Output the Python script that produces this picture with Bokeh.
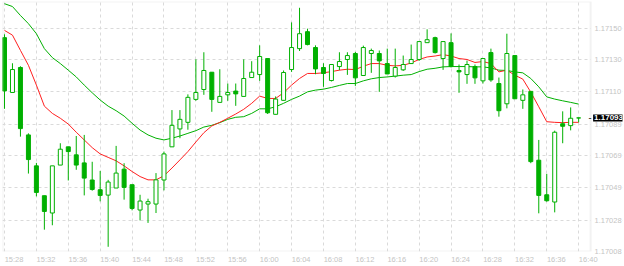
from bokeh.plotting import figure
from bokeh.models import (ColumnDataSource, FixedTicker, NumeralTickFormatter, Label,
                          BoxAnnotation)
from bokeh.embed import file_html
from bokeh.resources import INLINE

# ---- data (1-minute candles, 15:28 .. 16:40) ----
x_tick_labels = ["15:28", "15:32", "15:36", "15:40", "15:44", "15:48", "15:52", "15:56",
                 "16:00", "16:04", "16:08", "16:12", "16:16", "16:20", "16:24", "16:28",
                 "16:32", "16:36", "16:40"]
y_tick_labels = ["1.17008", "1.17028", "1.17049", "1.17069", "1.17089", "1.17110", "1.17130", "1.17150"]

opens = [1.171441, 1.171092, 1.171251, 1.170822, 1.170625, 1.170435, 1.170325, 1.170630, 1.170746, 1.170695,
         1.170644, 1.170535, 1.170473, 1.170439, 1.170484, 1.170604, 1.170505, 1.170344, 1.170382, 1.170382,
         1.170535, 1.170746, 1.170860, 1.170902, 1.171048, 1.171111, 1.171221, 1.171029, 1.171077, 1.171101,
         1.171067, 1.171187, 1.171206, 1.171308, 1.170953, 1.171042, 1.171238, 1.171371, 1.171479, 1.171378,
         1.171251, 1.171168, 1.171257, 1.171302, 1.171340, 1.171200, 1.171340, 1.171340, 1.171276, 1.171196,
         1.171236, 1.171276, 1.171302, 1.171409, 1.171441, 1.171308, 1.171409, 1.171232, 1.171206, 1.171257,
         1.171166, 1.171346, 1.171149, 1.171020, 1.171327, 1.171042, 1.171099, 1.170661, 1.170441, 1.170395,
         1.170893, 1.170881, 1.170930]
highs = [1.171462, 1.171278, 1.171259, 1.170832, 1.170644, 1.170435, 1.170625, 1.170769, 1.170746, 1.170815,
         1.170822, 1.170651, 1.170593, 1.170536, 1.170752, 1.170642, 1.170505, 1.170441, 1.170416, 1.170579,
         1.170716, 1.170980, 1.170980, 1.171080, 1.171303, 1.171348, 1.171221, 1.171240, 1.171149, 1.171149,
         1.171303, 1.171291, 1.171392, 1.171308, 1.171067, 1.171232, 1.171538, 1.171631, 1.171498, 1.171392,
         1.171278, 1.171270, 1.171348, 1.171348, 1.171350, 1.171390, 1.171371, 1.171359, 1.171371, 1.171371,
         1.171327, 1.171397, 1.171416, 1.171494, 1.171447, 1.171416, 1.171468, 1.171270, 1.171295, 1.171270,
         1.171308, 1.171371, 1.171187, 1.171466, 1.171327, 1.171111, 1.171099, 1.170790, 1.170574, 1.170849,
         1.170972, 1.170997, 1.170930]
lows = [1.170988, 1.171092, 1.170811, 1.170576, 1.170431, 1.170219, 1.170247, 1.170630, 1.170532, 1.170600,
        1.170437, 1.170467, 1.170399, 1.170110, 1.170484, 1.170410, 1.170342, 1.170278, 1.170262, 1.170325,
        1.170469, 1.170746, 1.170801, 1.170855, 1.171039, 1.171077, 1.170969, 1.171029, 1.171039, 1.171007,
        1.171067, 1.171187, 1.171166, 1.170955, 1.170953, 1.171042, 1.171223, 1.171356, 1.171392, 1.171208,
        1.171128, 1.171162, 1.171234, 1.171204, 1.171134, 1.171200, 1.171217, 1.171096, 1.171210, 1.171187,
        1.171229, 1.171276, 1.171293, 1.171409, 1.171340, 1.171236, 1.171251, 1.171090, 1.171147, 1.171147,
        1.171149, 1.171160, 1.170938, 1.170991, 1.171052, 1.170988, 1.170642, 1.170323, 1.170397, 1.170329,
        1.170769, 1.170851, 1.170902]
closes = [1.171102, 1.171238, 1.170862, 1.170665, 1.170456, 1.170335, 1.170625, 1.170731, 1.170716, 1.170630,
          1.170547, 1.170475, 1.170437, 1.170522, 1.170579, 1.170488, 1.170354, 1.170401, 1.170397, 1.170536,
          1.170701, 1.170883, 1.170921, 1.171061, 1.171092, 1.171232, 1.171048, 1.171067, 1.171092, 1.171083,
          1.171181, 1.171221, 1.171321, 1.170963, 1.171050, 1.171219, 1.171378, 1.171466, 1.171397, 1.171242,
          1.171213, 1.171270, 1.171289, 1.171327, 1.171185, 1.171378, 1.171359, 1.171293, 1.171210, 1.171251,
          1.171270, 1.171302, 1.171416, 1.171428, 1.171346, 1.171416, 1.171257, 1.171223, 1.171270, 1.171185,
          1.171308, 1.171172, 1.170976, 1.171340, 1.171052, 1.171077, 1.170652, 1.170437, 1.170403, 1.170839,
          1.170877, 1.170928, 1.170930]
ma_fast = [1.171487, 1.171457, 1.171360, 1.171265, 1.171139, 1.171005, 1.170959, 1.170928, 1.170891, 1.170839,
           1.170790, 1.170741, 1.170701, 1.170679, 1.170657, 1.170625, 1.170589, 1.170557, 1.170536, 1.170536,
           1.170562, 1.170611, 1.170663, 1.170716, 1.170777, 1.170836, 1.170879, 1.170902, 1.170928, 1.170955,
           1.170985, 1.171023, 1.171069, 1.171054, 1.171054, 1.171090, 1.171139, 1.171181, 1.171213, 1.171213,
           1.171217, 1.171225, 1.171234, 1.171240, 1.171238, 1.171259, 1.171276, 1.171276, 1.171265, 1.171261,
           1.171265, 1.171280, 1.171302, 1.171318, 1.171324, 1.171333, 1.171324, 1.171308, 1.171302, 1.171283,
           1.171289, 1.171276, 1.171223, 1.171234, 1.171202, 1.171177, 1.171094, 1.171001, 1.170906, 1.170902,
           1.170900, 1.170902, 1.170902]
ma_slow = [1.171657, 1.171639, 1.171582, 1.171530, 1.171466, 1.171371, 1.171314, 1.171276, 1.171234, 1.171191,
           1.171139, 1.171090, 1.171044, 1.171005, 1.170976, 1.170942, 1.170896, 1.170853, 1.170822, 1.170801,
           1.170790, 1.170801, 1.170815, 1.170832, 1.170849, 1.170872, 1.170883, 1.170900, 1.170921, 1.170934,
           1.170938, 1.170959, 1.170988, 1.170988, 1.171001, 1.171023, 1.171048, 1.171069, 1.171096, 1.171107,
           1.171113, 1.171124, 1.171137, 1.171149, 1.171149, 1.171166, 1.171179, 1.171187, 1.171191, 1.171196,
           1.171202, 1.171206, 1.171225, 1.171240, 1.171246, 1.171255, 1.171257, 1.171257, 1.171257, 1.171255,
           1.171255, 1.171248, 1.171234, 1.171232, 1.171223, 1.171217, 1.171181, 1.171128, 1.171064, 1.171050,
           1.171039, 1.171029, 1.171018]
last_price = "1.17093"

# ---- build ----
GREEN = "#00b000"
RED = "#ff2020"
GRID = "#dadada"
TXT = "#c4c4c4"
BORDER = "#d4d4d4"
CHART_END = 73.5          # right edge of the chart area (in minutes from 15:28)

n = len(opens)
idx = list(range(n))
up = [c >= o for o, c in zip(opens, closes)]
dn = [not u for u in up]
tops = [max(o, c) for o, c in zip(opens, closes)]
bots = [min(o, c) for o, c in zip(opens, closes)]

def sel(lst, mask):
    return [v for v, m in zip(lst, mask) if m]

src_up = ColumnDataSource(dict(x=sel(idx, up), top=sel(tops, up), bottom=sel(bots, up)))
src_dn = ColumnDataSource(dict(x=sel(idx, dn), top=sel(tops, dn), bottom=sel(bots, dn)))
src_w = ColumnDataSource(dict(x=idx, hi=highs, lo=lows))

# the frame covers the price-scale strip too, so the price tag can be drawn there
p = figure(width=624, height=266, output_backend="svg", toolbar_location=None,
           x_range=(-0.25, 77.5), y_range=(1.17008, 1.171671),
           y_axis_location="right", title=None)
p.min_border_left = 2
p.min_border_right = 0
p.min_border_top = 1
p.min_border_bottom = 14
p.background_fill_color = "white"
p.border_fill_color = "white"
p.outline_line_color = None

# grid
grid_x = [4 * k for k in range(len(x_tick_labels))]
y_ticks = [float(s) for s in y_tick_labels]
p.xgrid.ticker = FixedTicker(ticks=grid_x)
p.ygrid.ticker = FixedTicker(ticks=y_ticks)
for g in (p.xgrid, p.ygrid):
    g.grid_line_color = GRID
    g.grid_line_dash = "3 3"
    g.grid_line_width = 1

# axes
label_pos = [4 * k + 1.2 for k in range(len(x_tick_labels))]
p.xaxis.ticker = FixedTicker(ticks=label_pos)
p.xaxis.major_label_overrides = {pos: lab for pos, lab in zip(label_pos, x_tick_labels)}
p.yaxis.ticker = FixedTicker(ticks=y_ticks)
p.yaxis.formatter = NumeralTickFormatter(format="0.00000")
for ax in (p.xaxis, p.yaxis):
    ax.axis_line_color = None
    ax.major_tick_line_color = None
    ax.minor_tick_line_color = None
    ax.major_tick_out = 0
    ax.major_tick_in = 0
    ax.minor_tick_out = 0
    ax.minor_tick_in = 0
    ax.major_label_text_color = TXT
    ax.major_label_text_font = "Liberation Sans"
    ax.major_label_text_font_size = "7.5px"
p.xaxis.major_label_standoff = 3
p.yaxis.major_label_standoff = -28

# blank out the grid in the price-scale strip, then draw the chart border
p.add_layout(BoxAnnotation(left=CHART_END, fill_color="white", fill_alpha=1.0,
                           line_color=None, level="glyph"))
p.add_layout(BoxAnnotation(right=CHART_END, fill_alpha=0.0, line_color=BORDER,
                           line_width=2, level="glyph"))

# moving averages
p.line(idx, ma_slow, line_color=GREEN, line_width=1)
p.line(idx, ma_fast, line_color=RED, line_width=1)

# candles
p.segment(x0="x", y0="lo", x1="x", y1="hi", source=src_w, line_color=GREEN, line_width=1)
p.vbar(x="x", top="top", bottom="bottom", width=0.5, source=src_dn,
       fill_color=GREEN, line_color=GREEN, line_width=1)
p.vbar(x="x", top="top", bottom="bottom", width=0.5, source=src_up,
       fill_color="white", line_color=GREEN, line_width=1)

# current price: short black tick + black tag over the scale
p.add_layout(Label(x=CHART_END, y=float(last_price), text="-", x_units="data", y_units="data",
                   x_offset=-2, text_baseline="middle", text_color="black",
                   text_font="Liberation Sans", text_font_size="9px", level="overlay"))
p.add_layout(Label(x=CHART_END, y=float(last_price), text=last_price, x_units="data", y_units="data",
                   x_offset=2.5, text_baseline="middle", text_color="white",
                   text_font="Liberation Sans", text_font_size="8px", text_font_style="bold",
                   background_fill_color="black", padding=1, level="overlay"))

open("out.html", "w").write(file_html(p, INLINE))
